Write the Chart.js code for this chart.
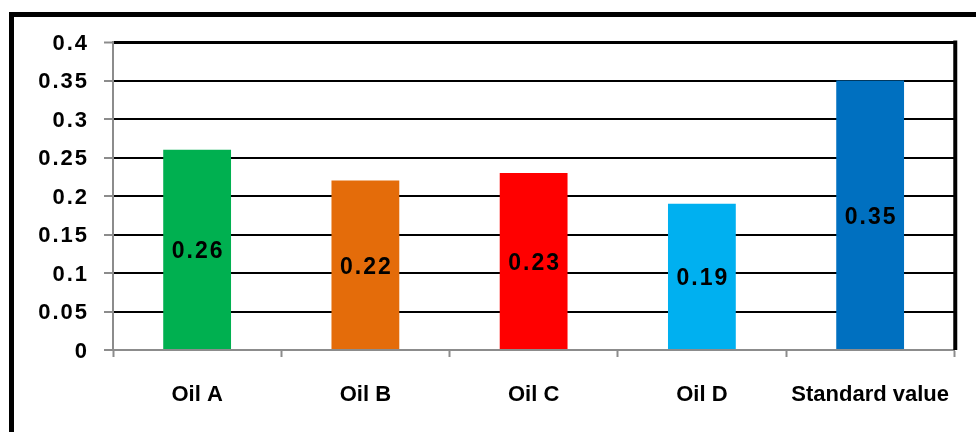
<!DOCTYPE html>
<html>
<head>
<meta charset="utf-8">
<script src="https://cdn.jsdelivr.net/npm/chart.js@4.4.0/dist/chart.umd.min.js"></script>
<style>
  html, body { margin: 0; padding: 0; background: #fff; overflow: hidden; }
  #frame { position: absolute; left: 9px; top: 12px; width: 2000px; height: 2000px;
           border-left: 5px solid #000; border-top: 5px solid #000; }
  #c { position: absolute; left: 0; top: 0; }
</style>
</head>
<body>
<div id="frame"></div>
<canvas id="c" width="976" height="432"></canvas>
<script>
// Friction values per oil sample, compared with the standard value
const categories = ['Oil A', 'Oil B', 'Oil C', 'Oil D', 'Standard value'];
const values = [0.26, 0.22, 0.23, 0.19, 0.35];
const barColors = ['#00B050', '#E46C0A', '#FF0000', '#00B0F0', '#0070C0'];
const yTicks = [0, 0.05, 0.1, 0.15, 0.2, 0.25, 0.3, 0.35, 0.4];

const font = 'Liberation Sans';
const digitSpacing = '2px';

// Numbers are drawn with a little extra tracking: the y tick labels are drawn
// before the datasets (z 0), the category labels after them (z 1), so the
// spacing is switched on before drawing and off once the bars are done.
const plotDecor = {
  id: 'plotDecor',
  beforeDraw(chart) {
    chart.ctx.letterSpacing = digitSpacing;
  },
  afterDatasetsDraw(chart) {
    const { ctx, chartArea } = chart;
    ctx.save();
    // thick right edge of the plot area
    ctx.strokeStyle = '#000';
    ctx.lineWidth = 4;
    ctx.beginPath();
    ctx.moveTo(chartArea.right + 1, chartArea.top - 1.5);
    ctx.lineTo(chartArea.right + 1, chartArea.bottom);
    ctx.stroke();

    // value labels in the middle of each bar
    ctx.fillStyle = '#000';
    ctx.font = 'bold 23px "' + font + '"';
    ctx.letterSpacing = digitSpacing;
    ctx.textAlign = 'center';
    ctx.textBaseline = 'middle';
    chart.getDatasetMeta(0).data.forEach((bar, i) => {
      const mid = (bar.y + bar.base) / 2;
      ctx.fillText(String(values[i]), bar.x + 1, mid + 2.5);
    });
    ctx.restore();
    ctx.letterSpacing = '0px';
  },
  afterDraw(chart) {
    chart.ctx.letterSpacing = '0px';
  }
};

new Chart(document.getElementById('c'), {
  type: 'bar',
  data: {
    labels: categories,
    datasets: [{
      data: values,
      backgroundColor: barColors,
      borderWidth: 0,
      barPercentage: 0.403,
      categoryPercentage: 1
    }]
  },
  options: {
    responsive: false,
    animation: false,
    events: [],
    layout: { padding: { top: 42, right: 20, bottom: 0, left: 0 } },
    plugins: { legend: { display: false }, tooltip: { enabled: false } },
    scales: {
      x: {
        offset: true,
        grid: {
          offset: true,
          drawOnChartArea: false,
          drawTicks: true,
          tickLength: 7,
          tickColor: '#8c8c8c',
          tickWidth: 2
        },
        border: { display: true, color: '#8c8c8c', width: 2 },
        ticks: {
          z: 1,
          color: '#000',
          font: { family: font, size: 22, weight: 'bold' },
          padding: 25,
          maxRotation: 0,
          autoSkip: false
        },
        afterFit(scale) { scale.height = 82; }
      },
      y: {
        min: 0,
        max: 0.4,
        afterBuildTicks(scale) { scale.ticks = yTicks.map(v => ({ value: v })); },
        grid: {
          color: ctx => (ctx.tick && ctx.tick.value === 0) ? 'rgba(0,0,0,0)' : '#000',
          lineWidth: ctx => (ctx.tick && ctx.tick.value === 0.4) ? 3 : 2,
          drawTicks: true,
          tickLength: 9,
          tickColor: '#8c8c8c',
          tickWidth: 2
        },
        border: { display: true, color: '#8c8c8c', width: 2 },
        ticks: {
          color: '#000',
          font: { family: font, size: 22, weight: 'bold' },
          padding: 15,
          labelOffset: 1.5,
          callback: v => String(v)
        },
        afterFit(scale) { scale.width = 113; }
      }
    }
  },
  plugins: [plotDecor]
});
</script>
</body>
</html>
